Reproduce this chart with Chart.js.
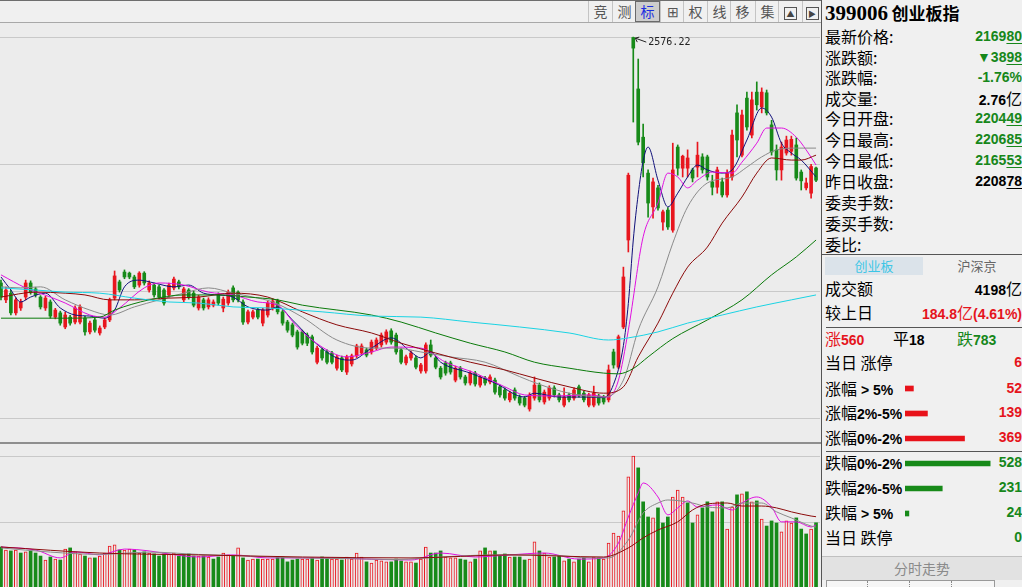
<!DOCTYPE html>
<html>
<head>
<meta charset="utf-8">
<script src="https://cdn.jsdelivr.net/npm/chart.js@4.4.1/dist/chart.umd.min.js"></script>
<style>
html, body { margin: 0; padding: 0; width: 1022px; height: 587px; overflow: hidden; background: #ececec; font-family: "Noto Sans CJK SC", sans-serif; }
#tb { position: absolute; left: 0; top: 0; width: 821px; height: 23px; background: #f0f0f0; border-top: 1px solid #6e6e6e; border-bottom: 1px solid #a8a8a8; box-sizing: border-box; }
.btn { position: absolute; top: 0; width: 23px; height: 21px; line-height: 21px; text-align: center; font-size: 14px; color: #555; border-left: 1px solid #c4c4c4; }
.btn.on { background: #cdcdcd; border: 1px solid #6a6a6a; color: #1c2ee0; height: 19px; line-height: 19px; width: 23px; }
.ico { display: inline-block; width: 11px; height: 11px; border: 1px solid #555; font-size: 8px; line-height: 11px; vertical-align: middle; color: #444; }
#main { position: absolute; left: 0; top: 23px; }
#vol { position: absolute; left: 0; top: 444px; }
#sep { position: absolute; left: 0; top: 442px; width: 821px; height: 2px; background: #8e8e8e; }
#panel { position: absolute; left: 821px; top: 0; width: 200px; height: 587px; background: #f0f0f0; border-left: 1px solid #555; }
#title { position: absolute; left: 3px; top: 1px; height: 24px; line-height: 24px; white-space: nowrap; }
#title b { font: bold 21px "Liberation Serif", serif; }
#title span { font-weight: bold; font-size: 17px; }
.r { position: absolute; left: 3px; right: 0; height: 21px; line-height: 21px; font-size: 16px; white-space: nowrap; color: #000; }
.v { position: absolute; right: 0; top: 0; font: bold 14px "Liberation Sans", Arial, sans-serif; line-height: 21px; }
.v i { font-style: normal; font: 16px "Noto Sans CJK SC", sans-serif; line-height: 21px; }
.n { font: bold 14px "Liberation Sans", Arial, sans-serif; line-height: 21px; }
u { text-decoration-thickness: 1px; text-underline-offset: 2px; }
.g { color: #16871a; }
.red { color: #e5141c; }
.hl { position: absolute; left: 4px; right: 0; height: 1px; background: #555; }
#tab1 { position: absolute; left: 3px; top: 257px; width: 98px; height: 18px; line-height: 18px; background: #dbe3ea; color: #3cc6e6; font-size: 13px; text-align: center; }
#tab2 { position: absolute; left: 130px; top: 257px; width: 50px; height: 18px; line-height: 18px; color: #666; font-size: 13px; text-align: center; }
#fsbtn { position: absolute; left: 0; top: 556px; width: 200px; height: 23px; line-height: 23px; background: #e2e2e2; border-top: 1px solid #c0c0c0; color: #8a8a8a; font-size: 14px; text-align: center; }
#bottom { position: absolute; left: 4px; top: 580px; width: 167px; height: 10px; border: 1px solid #999; background: #f6f6f6; }
#bottom div { position: absolute; top: 0; height: 10px; border-left: 1px dotted #888; }
#breadth { position: absolute; left: 905px; top: 376px; }
</style>
</head>
<body>

<div id="tb">
  <div class="btn" style="left:588px">竞</div>
  <div class="btn" style="left:612px">测</div>
  <div class="btn on" style="left:635px">标</div>
  <div class="btn" style="left:660px">⊞</div>
  <div class="btn" style="left:683px">权</div>
  <div class="btn" style="left:707px">线</div>
  <div class="btn" style="left:730px">移</div>
  <div class="btn" style="left:755px">集</div>
  <div class="btn" style="left:778px"><span class="ico">▲</span></div>
  <div class="btn" style="left:802px;width:18px"><span class="ico">▶</span></div>
</div>

<canvas id="main" width="820" height="420"></canvas>
<div id="sep"></div>
<canvas id="vol" width="820" height="143"></canvas>

<div id="panel">
  <div id="title"><b>399006</b> <span>创业板指</span></div>
  <div class="r" style="top:26px">最新价格:<span class="v g">2169<u>80</u></span></div>
  <div class="r" style="top:47px">涨跌额:<span class="v g">▼38<u>98</u></span></div>
  <div class="r" style="top:67px">涨跌幅:<span class="v g">-1.76%</span></div>
  <div class="r" style="top:88px">成交量:<span class="v">2.76<i>亿</i></span></div>
  <div class="r" style="top:108px">今日开盘:<span class="v g">2204<u>49</u></span></div>
  <div class="r" style="top:129px">今日最高:<span class="v g">2206<u>85</u></span></div>
  <div class="r" style="top:150px">今日最低:<span class="v g">2165<u>53</u></span></div>
  <div class="r" style="top:171px">昨日收盘:<span class="v">2208<u>78</u></span></div>
  <div class="r" style="top:192px">委卖手数:</div>
  <div class="r" style="top:213px">委买手数:</div>
  <div class="r" style="top:234px">委比:</div>
  <div class="hl" style="top:254px;left:0"></div>
  <div id="tab1">创业板</div>
  <div id="tab2">沪深京</div>
  <div class="r" style="top:278px">成交额<span class="v">4198<i>亿</i></span></div>
  <div class="r" style="top:302px">较上日<span class="v red">184.8<i>亿</i>(4.61%)</span></div>
  <div class="hl" style="top:327px"></div>
  <div class="r" style="top:328px"><span class="red">涨<span class="n">560</span></span></div>
  <div class="r" style="top:328px;left:71px">平<span class="n">18</span></div>
  <div class="r" style="top:328px;left:135px"><span class="g">跌<span class="n">783</span></span></div>
  <div class="r" style="top:352px">当日 涨停<span class="v red">6</span></div>
  <div class="r" style="top:378px">涨幅<span class="n"> &gt; 5%</span><span class="v red">52</span></div>
  <div class="r" style="top:402px">涨幅<span class="n">2%-5%</span><span class="v red">139</span></div>
  <div class="r" style="top:427px">涨幅<span class="n">0%-2%</span><span class="v red">369</span></div>
  <div class="hl" style="top:451px"></div>
  <div class="r" style="top:452px">跌幅<span class="n">0%-2%</span><span class="v g">528</span></div>
  <div class="r" style="top:477px">跌幅<span class="n">2%-5%</span><span class="v g">231</span></div>
  <div class="r" style="top:502px">跌幅<span class="n"> &gt; 5%</span><span class="v g">24</span></div>
  <div class="r" style="top:527px">当日 跌停<span class="v g">0</span></div>
  <div id="fsbtn">分时走势</div>
  <div id="bottom"><div style="left:40px"></div><div style="left:82px"></div><div style="left:124px"></div></div>
</div>

<canvas id="breadth" width="100" height="150"></canvas>

<script>
// daily K-line, index 0 = leftmost candle
const candleOpen = [1878,1830,1849,1793,1807,1838,1878,1861,1838,1807,
  1824,1781,1793,1753,1781,1767,1767,1778,1739,1773,
  1736,1753,1773,1835,1881,1909,1906,1895,1872,1906,
  1858,1872,1867,1858,1844,1864,1881,1830,1858,1849,
  1807,1830,1810,1815,1844,1807,1821,1864,1852,1824,
  1767,1781,1801,1764,1787,1807,1827,1796,1767,1759,
  1739,1739,1730,1725,1653,1688,1682,1679,1636,1665,
  1625,1648,1671,1679,1688,1682,1693,1702,1710,1742,
  1730,1688,1651,1665,1665,1628,1628,1702,1665,1636,
  1651,1651,1602,1636,1611,1594,1622,1588,1608,1597,
  1602,1583,1574,1546,1574,1554,1551,1520,1551,1588,
  1540,1551,1580,1560,1531,1560,1551,1583,1565,1531,
  1531,1557,1554,1546,1682,1639,1753,2000,2575,2429,
  2292,2190,2094,2148,2051,2085,2028,2264,2204,2204,
  2199,2207,2236,2236,2165,2150,2165,2128,2179,2361,
  2241,2403,2298,2420,2378,2418,2327,2256,2199,2247,
  2252,2270,2193,2148,2133,2204.49];
const candleHigh = [1886,1866,1858,1836,1832,1886,1884,1866,1842,1840,
  1830,1806,1798,1795,1786,1813,1816,1783,1770,1778,
  1756,1778,1835,1912,1886,1915,1909,1900,1910,1910,
  1884,1878,1872,1862,1878,1895,1886,1866,1862,1855,
  1843,1835,1836,1830,1850,1838,1858,1870,1856,1830,
  1801,1801,1806,1806,1827,1833,1832,1800,1772,1764,
  1744,1744,1736,1730,1699,1693,1688,1684,1673,1670,
  1673,1676,1704,1705,1693,1716,1722,1736,1745,1748,
  1736,1693,1673,1685,1670,1650,1708,1716,1670,1641,
  1656,1656,1642,1641,1616,1628,1627,1616,1613,1617,
  1608,1588,1580,1571,1580,1560,1556,1566,1611,1594,
  1574,1586,1586,1565,1580,1565,1580,1588,1571,1565,
  1585,1562,1559,1645,1690,1730,1923,2190,2576.22,2514,
  2329,2199,2176,2155,2085,2092,2275,2270,2241,2256,
  2204,2278,2245,2241,2184,2207,2176,2199,2312,2384,
  2369,2420,2420,2449,2432,2426,2340,2270,2278,2295,
  2295,2290,2199,2176,2215,2206.85];
const candleLow = [1830,1822,1787,1787,1800,1830,1846,1838,1804,1800,
  1778,1776,1758,1748,1758,1762,1762,1730,1733,1738,
  1730,1748,1768,1830,1852,1890,1890,1862,1866,1872,
  1852,1838,1833,1815,1838,1858,1861,1824,1832,1810,
  1801,1801,1804,1810,1815,1796,1815,1824,1824,1760,
  1762,1776,1776,1756,1781,1801,1790,1758,1738,1725,
  1690,1702,1700,1676,1648,1659,1648,1648,1630,1626,
  1618,1642,1666,1674,1668,1676,1688,1696,1704,1704,
  1676,1648,1645,1659,1634,1622,1622,1668,1634,1605,
  1616,1619,1597,1605,1588,1588,1585,1582,1588,1591,
  1562,1554,1545,1540,1545,1531,1526,1514,1545,1540,
  1534,1545,1554,1540,1526,1540,1545,1554,1540,1526,
  1526,1531,1534,1540,1636,1634,1748,1966,2335,2270,
  2179,2065,2062,2085,2028,2030,2022,2184,2179,2179,
  2165,2179,2190,2170,2128,2133,2122,2122,2170,2236,
  2236,2312,2290,2369,2361,2355,2241,2170,2170,2241,
  2241,2170,2142,2142,2119,2165.53];
const candleClose = [1838,1858,1793,1830,1824,1878,1852,1844,1810,1835,
  1784,1801,1764,1787,1764,1807,1810,1739,1764,1744,
  1750,1773,1830,1898,1858,1895,1895,1867,1906,1878,
  1878,1844,1838,1821,1872,1889,1867,1861,1838,1815,
  1838,1807,1830,1824,1821,1832,1852,1830,1830,1767,
  1796,1796,1781,1801,1821,1827,1796,1764,1744,1730,
  1696,1707,1707,1682,1693,1665,1653,1653,1668,1631,
  1668,1671,1699,1699,1673,1710,1716,1730,1739,1710,
  1682,1653,1668,1679,1639,1645,1702,1673,1639,1611,
  1622,1625,1636,1611,1594,1622,1591,1611,1594,1611,
  1568,1560,1551,1565,1551,1537,1531,1560,1588,1546,
  1568,1580,1560,1546,1554,1546,1574,1560,1546,1560,
  1565,1537,1540,1631,1645,1725,1895,2184,2545,2278,
  2219,2105,2165,2091,2080,2037,2199,2204,2238,2233,
  2176,2241,2199,2179,2150,2199,2128,2190,2298,2284,
  2355,2321,2398,2384,2420,2361,2250,2199,2264,2284,
  2286,2176,2168,2162,2208.78,2169.80];
// volume, 亿
const volume = [1.72,1.59,1.55,1.59,1.46,1.51,1.55,1.46,1.33,1.16,
  1.29,1.20,1.16,1.63,1.68,1.51,1.42,1.33,1.25,1.25,
  1.33,1.46,1.76,1.81,1.59,1.59,1.63,1.59,1.46,1.51,
  1.46,1.42,1.33,1.42,1.42,1.46,1.33,1.38,1.42,1.33,
  1.33,1.33,1.29,1.20,1.29,1.46,1.38,1.33,1.68,1.25,
  1.16,1.20,1.20,1.20,1.20,1.20,1.29,1.29,1.08,1.16,
  1.20,1.20,1.20,1.25,1.16,1.29,1.25,1.20,1.20,1.16,
  1.29,1.20,1.46,1.29,1.08,1.03,1.16,1.12,1.08,1.08,
  1.20,1.12,1.08,1.08,1.03,1.20,1.72,1.46,1.46,1.55,
  1.29,1.25,1.25,1.20,1.16,1.08,1.20,1.55,1.68,1.55,
  1.55,1.33,1.42,1.29,1.29,1.29,1.16,1.20,1.94,1.55,
  1.46,1.29,1.29,1.33,1.12,1.20,1.08,1.20,1.25,1.08,
  1.29,1.25,1.20,1.89,2.32,2.19,3.27,4.73,5.63,5.12,
  3.66,3.01,2.97,3.40,2.75,3.01,3.87,4.17,3.87,3.61,
  2.75,3.10,3.40,3.66,3.23,3.66,3.66,2.49,3.44,3.96,
  4.00,4.09,3.66,3.70,2.92,2.62,2.84,2.75,2.37,2.84,
  2.75,2.97,2.49,2.28,2.49,2.76];

// moving average lines: [candle index, value]
const ma5Pts = [[0,1895],[2,1858],[4,1824],[6,1838],[9,1849],[12,1807],[15,1787],[18,1784],[21,1778],[23,1801],[25,1867],[28,1886],[31,1878],[35,1867],[38,1872],[41,1849],[44,1844],[47,1838],[50,1810],[54,1801],[56,1810],[59,1773],[63,1716],[68,1665],[71,1659],[75,1693],[79,1722],[83,1682],[85,1665],[87,1682],[89,1653],[95,1622],[100,1594],[106,1554],[108,1565],[113,1554],[119,1554],[122,1552],[124,1590],[126,1700],[127,1820],[128,2000],[129,2130],[130,2225],[131,2264],[133,2170],[135,2094],[137,2133],[139,2179],[141,2213],[143,2199],[146,2190],[148,2199],[151,2284],[154,2375],[156,2349],[158,2275],[160,2247],[162,2227],[165,2179]];
const ma10Pts = [[0,1901],[5,1864],[10,1838],[13,1821],[18,1787],[21,1781],[24,1807],[29,1864],[32,1878],[37,1872],[42,1852],[47,1844],[52,1824],[56,1815],[60,1753],[65,1696],[70,1668],[75,1682],[79,1696],[85,1693],[90,1653],[96,1622],[102,1583],[106,1560],[112,1557],[119,1560],[123,1554],[125,1602],[127,1744],[130,2009],[133,2105],[135,2190],[137,2179],[139,2148],[141,2170],[144,2193],[148,2190],[150,2221],[153,2275],[155,2318],[158,2318],[161,2292],[163,2256],[165,2213]];
const ma20Pts = [[0,1867],[4,1864],[8,1867],[13,1830],[18,1801],[22,1787],[27,1810],[32,1830],[37,1849],[42,1864],[47,1849],[51,1838],[55,1824],[61,1781],[68,1716],[75,1693],[80,1693],[85,1682],[91,1668],[98,1653],[105,1612],[109,1590],[115,1565],[122,1554],[126,1602],[129,1744],[133,1867],[136,1991],[139,2094],[143,2162],[148,2179],[151,2207],[154,2236],[157,2256],[161,2261],[165,2261]];
const ma30Pts = [[0,1838],[7,1852],[13,1849],[17,1844],[22,1830],[27,1830],[34,1835],[40,1838],[47,1849],[54,1838],[61,1796],[68,1759],[75,1736],[81,1707],[88,1679],[95,1653],[102,1631],[108,1608],[115,1583],[122,1565],[126,1583],[129,1668],[133,1764],[136,1849],[139,1923],[143,1980],[146,2048],[150,2122],[153,2190],[156,2233],[160,2227],[162,2227],[165,2241]];
const ma60Pts = [[0,1778],[13,1778],[20,1781],[23,1801],[30,1830],[37,1844],[44,1844],[50,1838],[56,1830],[61,1815],[75,1787],[81,1767],[88,1736],[95,1707],[102,1682],[108,1653],[115,1636],[122,1622],[125,1620],[128,1635],[131,1668],[136,1720],[143,1773],[150,1830],[156,1901],[161,1952],[165,2000]];
const ma120Pts = [[0,1864],[7,1858],[13,1852],[20,1849],[27,1835],[34,1824],[40,1821],[47,1810],[54,1807],[65,1796],[75,1784],[85,1781],[95,1767],[105,1753],[115,1736],[123,1716],[127,1722],[133,1739],[139,1764],[146,1787],[153,1810],[160,1830],[165,1844]];
const volMa5Pts = [[0,1.72],[7,1.59],[12,1.25],[15,1.51],[20,1.38],[25,1.63],[30,1.55],[34,1.42],[40,1.29],[47,1.38],[54,1.25],[61,1.25],[67,1.25],[74,1.20],[83,1.16],[89,1.46],[96,1.29],[103,1.38],[110,1.46],[117,1.20],[122,1.25],[125,1.89],[127,3.01],[129,4.04],[130,4.47],[133,3.87],[135,3.10],[137,3.40],[139,3.70],[141,3.44],[145,3.53],[148,3.31],[150,3.61],[153,3.87],[156,3.44],[158,2.80],[161,2.80],[164,2.58],[165,2.67]];
const volMa10Pts = [[0,1.68],[10,1.50],[20,1.40],[30,1.50],[40,1.40],[50,1.33],[60,1.25],[70,1.22],[80,1.18],[90,1.30],[100,1.38],[110,1.38],[120,1.25],[123,1.25],[127,2.02],[130,3.18],[133,3.61],[135,3.74],[140,3.61],[143,3.44],[147,3.40],[150,3.61],[154,3.61],[157,3.23],[160,2.97],[164,2.62],[165,2.58]];
const volMa20Pts = [[0,1.72],[20,1.46],[40,1.38],[61,1.29],[83,1.25],[103,1.38],[122,1.29],[127,1.68],[130,2.11],[133,2.45],[137,2.80],[140,3.31],[143,3.57],[147,3.61],[150,3.48],[154,3.48],[157,3.40],[160,3.23],[164,3.05],[165,3.02]];

// horizontal grid levels
const priceGrid = [2576.5, 2215.8, 1855.2, 1494.5];
const volGrid = [2.815, 5.63];

// market breadth (right panel)
const breadthLabels = ['涨幅>5%', '涨幅2%-5%', '涨幅0%-2%', '跌幅0%-2%', '跌幅2%-5%', '跌幅>5%'];
const breadthCount = [52, 139, 369, 528, 231, 24];

const RED = '#e8161e';
const GREEN = '#178a19';
const BG = '#ececec';

const toXY = pts => pts.map(p => ({x: p[0], y: p[1]}));

const hGrid = {
    id: 'hGrid',
    beforeDatasetsDraw(chart, args, opts) {
        if (!opts.values) return;
        const {ctx, chartArea, scales} = chart;
        ctx.save();
        ctx.strokeStyle = opts.color;
        ctx.lineWidth = 1;
        opts.values.forEach(v => {
            const py = Math.round(scales.y.getPixelForValue(v)) + 0.5;
            ctx.beginPath();
            ctx.moveTo(chartArea.left, py);
            ctx.lineTo(chartArea.right, py);
            ctx.stroke();
        });
        ctx.restore();
    }
};

const peakLabel = {
    id: 'peakLabel',
    afterDatasetsDraw(chart) {
        const {ctx, scales} = chart;
        let k = 0;
        candleHigh.forEach((h, i) => { if (h > candleHigh[k]) k = i; });
        const px = scales.x.getPixelForValue(k);
        const py = scales.y.getPixelForValue(candleHigh[k]);
        ctx.save();
        ctx.strokeStyle = '#222';
        ctx.fillStyle = '#222';
        ctx.lineWidth = 1;
        ctx.beginPath();
        ctx.moveTo(px + 2, py + 1);
        ctx.lineTo(px + 13, py + 5);
        ctx.moveTo(px + 2, py + 1);
        ctx.lineTo(px + 4, py + 5);
        ctx.moveTo(px + 2, py + 1);
        ctx.lineTo(px + 6, py);
        ctx.stroke();
        ctx.font = '10px "DejaVu Sans Mono", monospace';
        ctx.textBaseline = 'middle';
        ctx.fillText(candleHigh[k].toFixed(2), px + 15, py + 5);
        ctx.restore();
    }
};

const upColor = candleClose.map((c, i) => c >= candleOpen[i] ? RED : GREEN);
const volUp = candleClose.map((c, i) => c >= (i ? candleClose[i - 1] : candleOpen[i]));

const maLine = (pts, color, order) => ({
    type: 'line',
    data: toXY(pts),
    borderColor: color,
    borderWidth: 1,
    pointRadius: 0,
    cubicInterpolationMode: 'monotone',
    order: order
});

const xRange = {type: 'linear', min: -0.2, max: 165.8, display: false, offset: false};

new Chart(document.getElementById('main').getContext('2d'), {
    type: 'bar',
    data: {
        datasets: [
            maLine(ma120Pts, '#19d3e3', 0),
            maLine(ma60Pts, '#0a7a0a', 0),
            maLine(ma30Pts, '#8b0a0a', 0),
            maLine(ma20Pts, '#8a8a8a', 0),
            maLine(ma10Pts, '#e010e0', 0),
            maLine(ma5Pts, '#10107a', 0),
            {
                data: candleOpen.map((o, i) => ({x: i, y: [o, candleClose[i]]})),
                backgroundColor: upColor,
                barThickness: 3,
                minBarLength: 1,
                grouped: false,
                order: 1
            },
            {
                data: candleLow.map((l, i) => ({x: i, y: [l, candleHigh[i]]})),
                backgroundColor: upColor,
                barThickness: 1,
                grouped: false,
                order: 2
            }
        ]
    },
    options: {
        responsive: false,
        animation: false,
        events: [],
        layout: {padding: 0},
        plugins: {
            legend: {display: false},
            tooltip: {enabled: false},
            hGrid: {values: priceGrid, color: '#c9c9c9'}
        },
        scales: {
            x: xRange,
            y: {min: 1423.5, max: 2616.3, display: false}
        }
    },
    plugins: [hGrid, peakLabel]
});

new Chart(document.getElementById('vol').getContext('2d'), {
    type: 'bar',
    data: {
        datasets: [
            maLine(volMa20Pts, '#8b0a0a', 0),
            maLine(volMa10Pts, '#8a8a8a', 0),
            maLine(volMa5Pts, '#e010e0', 0),
            {
                data: volume.map((v, i) => ({x: i, y: v})),
                backgroundColor: volUp.map(u => u ? BG : GREEN),
                borderColor: volUp.map(u => u ? RED : GREEN),
                borderWidth: volUp.map(u => u ? 1 : 0),
                borderSkipped: 'start',
                barThickness: 3,
                grouped: false,
                order: 1
            }
        ]
    },
    options: {
        responsive: false,
        animation: false,
        events: [],
        layout: {padding: 0},
        plugins: {
            legend: {display: false},
            tooltip: {enabled: false},
            hGrid: {values: volGrid, color: '#c9c9c9'}
        },
        scales: {
            x: xRange,
            y: {min: 0, max: 6.146, display: false}
        }
    },
    plugins: [hGrid]
});

new Chart(document.getElementById('breadth').getContext('2d'), {
    type: 'bar',
    data: {
        labels: breadthLabels,
        datasets: [{
            data: breadthCount,
            backgroundColor: breadthCount.map((v, i) => i < 3 ? '#e8121a' : '#178a19'),
            barThickness: 5
        }]
    },
    options: {
        indexAxis: 'y',
        responsive: false,
        animation: false,
        events: [],
        layout: {padding: 0},
        plugins: {legend: {display: false}, tooltip: {enabled: false}},
        scales: {
            x: {min: 0, max: 620, display: false},
            y: {display: false}
        }
    }
});
</script>
</body>
</html>
